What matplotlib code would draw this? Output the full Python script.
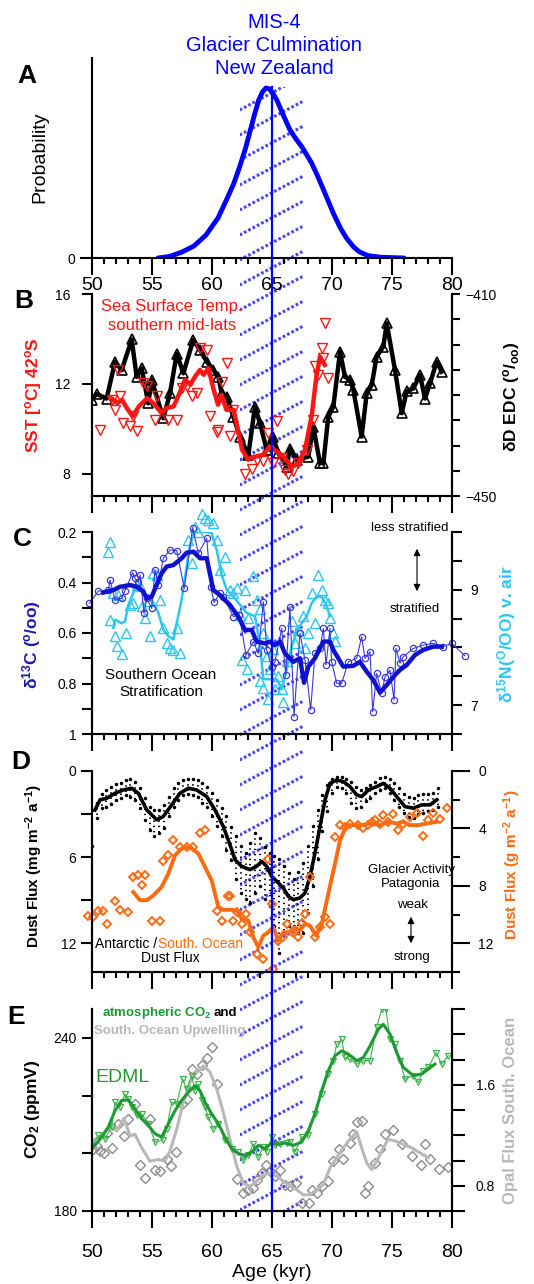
import numpy as np
import matplotlib
matplotlib.use('Agg')
import matplotlib.pyplot as plt
from matplotlib.patches import Rectangle
from matplotlib.ticker import MultipleLocator, FixedLocator

plt.rcParams['font.family'] = ['Liberation Sans', 'DejaVu Sans']
plt.rcParams['mathtext.fontset'] = 'custom'
plt.rcParams['mathtext.rm'] = 'Liberation Sans'
plt.rcParams['mathtext.bf'] = 'Liberation Sans:bold'
plt.rcParams['mathtext.default'] = 'regular'

# ---- A: probability of glacier culmination
prob_age = [55.5, 56.5, 57.5, 58.5, 59.5, 60.5, 61.2, 61.8, 62.3, 62.8, 63.2, 63.6, 63.9, 64.2,
            64.5, 64.8, 65.1, 65.4, 65.9, 66.5, 67.0, 67.5, 68.3, 68.8, 69.3, 70.1, 70.7, 71.2,
            71.8, 72.3, 73.0, 74.0, 76.0]
prob_val = [0.0, 0.008, 0.03, 0.06, 0.115, 0.2, 0.29, 0.37, 0.455, 0.55, 0.64, 0.73, 0.79, 0.83,
            0.85, 0.845, 0.82, 0.79, 0.72, 0.64, 0.595, 0.555, 0.475, 0.41, 0.34, 0.225, 0.15, 0.1,
            0.055, 0.03, 0.012, 0.004, 0.0]

# ---- B: EDC deltaD and SST
dd_age = [49.14, 49.56, 49.97, 50.39, 51.22, 51.92, 52.47, 53.31, 53.72, 54.14, 54.69, 54.97, 55.94,
          56.5, 57.06, 57.61, 58.44, 59.0, 59.56, 60.11, 60.53, 60.81, 61.22, 61.78, 62.33, 63.03,
          63.58, 64.0, 64.56, 65.06, 65.53, 66.22, 66.5, 67.06, 68.03, 68.44, 69.0, 69.28, 69.69,
          70.11, 70.67, 71.08, 71.5, 71.78, 72.47, 72.89, 73.31, 73.72, 74.28, 74.56, 75.25, 75.81,
          76.22, 76.78, 77.33, 77.75, 78.17, 78.72, 79.14]
dd_val = [-435.3, -431.3, -430.9, -429.8, -430.7, -423.4, -425.1, -419.0, -426.4, -424.7, -431.65,
          -427.0, -434.6, -429.7, -421.8, -425.7, -419.1, -421.1, -423.4, -425.05, -426.4, -429.7,
          -430.3, -434.3, -438.25, -441.9, -432.3, -435.6, -440.9, -438.25, -441.55, -444.2, -440.6,
          -442.9, -442.2, -436.3, -443.5, -443.5, -434.3, -432.3, -421.4, -426.4, -427.0, -429.0,
          -438.25, -429.7, -428.0, -422.4, -420.4, -415.8, -425.05, -433.6, -429.3, -428.7, -426.0,
          -430.7, -427.7, -423.4, -425.4]

sst_age = [50.67, 51.64, 51.92, 52.19, 52.33, 52.61, 53.17, 53.44, 53.72, 54.28, 54.56, 55.25, 55.39,
           56.36, 57.06, 57.47, 57.89, 58.31, 58.72, 59.0, 59.56, 59.83, 60.39, 60.53, 60.81, 61.22,
           61.5, 61.78, 62.75, 63.31, 63.72, 64.28, 64.69, 65.11, 65.39, 65.81, 66.08, 66.36, 66.78,
           67.19, 67.89, 68.44, 68.58, 68.86, 69.14, 69.28, 69.69, 69.42]
sst_val = [9.93, 11.29, 10.85, 12.62, 11.47, 10.25, 10.10, 10.55, 9.88, 12.03, 11.88, 10.40, 11.44,
           10.40, 10.40, 11.81, 11.88, 11.44, 11.59, 13.59, 13.51, 10.55, 9.84, 9.96, 12.10, 12.92,
           9.66, 10.85, 7.96, 8.21, 8.62, 8.55, 9.81, 8.47, 10.33, 8.70, 8.18, 8.0, 8.10, 8.47, 9.07,
           10.40, 12.77, 12.40, 13.59, 13.14, 12.25, 14.70]
sst_smooth_age = [51.6, 52.1, 52.5, 52.9, 53.4, 53.9, 54.6, 55.1, 55.8, 56.2, 56.8, 57.3, 57.75, 58.2,
                  58.6, 59.0, 59.3, 59.7, 60.1, 60.5, 60.8, 61.2, 61.8, 62.1, 62.5, 63.0, 63.7, 64.3,
                  64.8, 65.4, 65.9, 66.7, 67.2, 67.75, 68.3, 68.7, 69.0, 69.4]
sst_smooth = [11.36, 11.14, 11.29, 10.92, 10.55, 10.99, 11.36, 11.14, 10.70, 10.92, 10.99, 11.59,
              12.18, 11.96, 12.33, 12.62, 12.4, 12.7, 11.81, 11.07, 11.51, 10.84, 10.84, 10.10, 9.07,
              8.62, 8.77, 8.84, 9.21, 8.99, 8.77, 8.30, 8.47, 9.07, 10.55, 12.33, 13.21, 12.84]

# ---- C: d13C and d15N
c13_age = [49.78, 50.53, 51.36, 51.5, 51.92, 52.47, 52.75, 53.39, 53.58, 53.86, 54.0, 54.33, 54.56,
           54.97, 55.25, 55.53, 55.94, 56.5, 57.06, 57.69, 58.39, 58.86, 59.56, 59.89, 60.17, 60.67,
           60.94, 61.78, 62.28, 62.83, 63.44, 63.86, 64.28, 64.56, 64.97, 65.25, 65.81, 66.14, 66.5,
           66.83, 67.33, 67.75, 68.22, 68.58, 69.0, 69.28, 69.5, 69.83, 69.97, 70.39, 70.81, 71.36,
           72.06, 72.47, 72.75, 73.17, 73.39, 73.72, 74.14, 74.42, 74.83, 75.17, 75.33, 75.67, 75.94,
           76.78, 77.61, 78.44, 79.28, 79.97, 81.08]
c13_val = [0.483, 0.434, 0.430, 0.390, 0.469, 0.463, 0.432, 0.361, 0.384, 0.397, 0.370, 0.522, 0.463,
           0.502, 0.350, 0.410, 0.304, 0.271, 0.274, 0.423, 0.183, 0.285, 0.225, 0.417, 0.479, 0.443,
           0.456, 0.535, 0.529, 0.687, 0.634, 0.681, 0.476, 0.667, 0.733, 0.714, 0.582, 0.766, 0.496,
           0.931, 0.601, 0.707, 0.905, 0.681, 0.661, 0.582, 0.727, 0.582, 0.714, 0.799, 0.799, 0.714,
           0.700, 0.615, 0.700, 0.674, 0.912, 0.760, 0.839, 0.773, 0.747, 0.865, 0.661, 0.720, 0.694,
           0.661, 0.648, 0.641, 0.654, 0.641, 0.690]
c13_smooth_age = [50.94, 51.78, 52.33, 53.17, 53.72, 54.28, 54.56, 54.97, 55.39, 55.8, 56.22, 56.78,
                  57.47, 57.89, 58.44, 59.0, 59.56, 60.11, 60.67, 61.5, 62.19, 62.75, 63.31, 63.72,
                  64.42, 64.83, 65.25, 65.67, 66.08, 66.78, 67.33, 67.67, 68.03, 68.58, 69.28, 69.83,
                  70.11, 70.94, 71.78, 72.33, 72.89, 73.44, 74.0, 74.56, 75.25, 75.67, 76.22, 76.92,
                  77.61, 78.44, 79.14]
c13_smooth = [0.44, 0.43, 0.417, 0.41, 0.417, 0.436, 0.463, 0.456, 0.41, 0.364, 0.337, 0.331, 0.304,
              0.282, 0.278, 0.304, 0.304, 0.43, 0.45, 0.489, 0.535, 0.588, 0.588, 0.634, 0.641, 0.634,
              0.648, 0.634, 0.681, 0.714, 0.70, 0.797, 0.733, 0.70, 0.634, 0.634, 0.667, 0.733, 0.73,
              0.714, 0.753, 0.786, 0.836, 0.806, 0.766, 0.746, 0.727, 0.687, 0.667, 0.654, 0.654]

n15_age = [51.36, 51.5, 51.5, 51.78, 51.92, 52.06, 52.19, 52.47, 52.83, 53.17, 53.44, 53.72, 54.0,
           54.14, 54.42, 54.69, 54.83, 55.11, 55.39, 55.67, 55.94, 56.22, 56.5, 56.78, 57.06, 57.33,
           58.03, 58.31, 58.58, 58.86, 59.14, 59.42, 59.69, 60.06, 60.39, 60.67, 61.08, 61.5, 61.78,
           62.06, 62.33, 62.47, 62.75, 62.89, 63.03, 63.44, 63.72, 64.0, 64.0, 64.28, 64.28, 64.56,
           64.69, 64.83, 65.11, 65.25, 65.53, 65.81, 65.94, 66.22, 66.64, 66.92, 67.19, 67.61, 67.75,
           68.03, 68.31, 68.58, 68.86, 69.14, 69.42, 69.69, 69.83, 70.11, 70.25]
n15_val = [9.66, 9.83, 8.48, 8.94, 8.195, 8.02, 8.91, 7.88, 8.25, 8.74, 8.77, 9.09, 9.06, 8.71, 8.51,
           8.8, 8.195, 9.29, 9.26, 8.83, 8.34, 8.08, 7.99, 7.96, 8.34, 7.91, 9.86, 9.46, 10.09, 10.0,
           10.32, 10.24, 10.21, 10.15, 9.86, 9.34, 9.57, 9.0, 8.94, 9.03, 8.57, 7.79, 9.0, 7.62, 8.51,
           9.23, 8.83, 8.66, 7.42, 8.25, 7.30, 7.85, 7.10, 7.62, 7.97, 7.28, 7.51, 7.28, 7.05, 7.76,
           8.45, 8.08, 8.31, 8.54, 7.99, 8.25, 8.94, 8.42, 9.26, 9.0, 8.83, 8.77, 8.51, 8.25, 8.11]
n15_smooth_age = [51.78, 51.92, 52.19, 52.47, 52.75, 53.03, 53.31, 53.72, 54.14, 54.42, 54.69, 55.11,
                  55.53, 55.94, 56.36, 56.78, 57.06, 57.47, 57.89, 58.17, 58.58, 59.0, 59.56, 59.97,
                  60.39, 60.81, 61.22, 61.78, 62.33, 62.89, 63.58, 64.0, 64.28, 64.83, 65.39, 65.81,
                  66.22, 66.64, 67.06, 67.47, 67.89, 68.31, 68.72, 69.14, 69.56, 69.83]
n15_smooth = [8.34, 8.48, 8.45, 8.42, 8.45, 8.74, 8.88, 9.09, 9.0, 8.88, 8.91, 8.77, 8.6, 8.31, 8.195,
              8.14, 8.42, 8.83, 9.40, 9.78, 10.03, 10.0, 10.0, 9.98, 9.69, 9.26, 9.0, 8.88, 8.74, 8.6,
              8.54, 8.05, 7.45, 7.45, 7.45, 7.28, 7.62, 8.02, 8.28, 8.42, 8.54, 8.77, 8.88, 8.88, 8.71,
              8.54]

# ---- D: dust fluxes
dust_age = [49.2, 49.6, 50.0, 50.4, 50.8, 51.2, 51.6, 52.0, 52.4, 52.8, 53.2, 53.6, 54.0, 54.4, 54.8,
            55.2, 55.6, 56.0, 56.4, 56.8, 57.2, 57.6, 58.0, 58.4, 58.8, 59.2, 59.6, 60.0, 60.4, 60.8,
            61.2, 61.6, 62.0, 62.4, 62.8, 63.2, 63.6, 64.0, 64.4, 64.8, 65.2, 65.6, 66.0, 66.4, 66.8,
            67.2, 67.6, 68.0, 68.4, 68.8, 69.2, 69.6, 70.0, 70.4, 70.8, 71.2, 71.6, 72.0, 72.4, 72.8,
            73.2, 73.6, 74.0, 74.4, 74.8, 75.2, 75.6, 76.0, 76.4, 76.8, 77.2, 77.6, 78.0, 78.4, 78.8]
dust_hi = [2.8, 3.1, 2.7, 2.2, 1.6, 1.3, 1.1, 0.9, 0.85, 0.65, 0.55, 0.75, 1.2, 1.9, 2.5, 2.7, 2.7,
           2.4, 1.8, 1.2, 0.85, 0.65, 0.55, 0.55, 0.65, 0.85, 1.1, 1.5, 2.0, 2.6, 3.1, 3.9, 4.5, 5.2,
           5.7, 5.0, 4.3, 4.7, 5.3, 5.7, 5.9, 6.1, 6.6, 7.1, 7.5, 7.0, 6.4, 5.2, 3.8, 2.7, 1.7, 1.0,
           0.55, 0.4, 0.4, 0.55, 0.75, 1.1, 1.3, 1.2, 0.95, 0.75, 0.5, 0.4, 0.55, 0.85, 1.2, 1.6, 1.8,
           1.9, 1.7, 1.6, 1.6, 1.5, 1.2]
dust_lo = [5.3, 4.9, 5.2, 3.3, 2.6, 2.5, 2.3, 2.0, 1.9, 1.7, 1.8, 2.0, 2.6, 3.4, 4.1, 4.5, 4.3, 4.0,
           3.1, 2.5, 2.0, 1.7, 1.6, 1.7, 1.8, 2.2, 2.5, 3.1, 3.8, 4.5, 5.5, 6.2, 7.5, 8.5, 8.9, 9.2,
           8.5, 8.0, 8.9, 9.4, 10.8, 12.7, 11.3, 10.8, 10.8, 11.3, 11.3, 9.9, 8.0, 6.1, 4.2, 2.8, 1.5,
           1.1, 1.2, 1.5, 2.2, 2.6, 2.5, 2.1, 1.9, 1.5, 1.3, 1.2, 1.5, 2.0, 2.5, 2.9, 3.2, 3.3, 3.0,
           2.9, 2.8, 2.7, 2.5]
dust_smooth_age = [50.25, 50.67, 51.22, 51.92, 52.61, 53.3, 53.86, 54.56, 55.39, 55.94, 56.64, 57.33,
                   58.03, 58.72, 59.56, 60.25, 60.94, 61.5, 61.92, 62.47, 63.17, 63.72, 64.14, 64.56,
                   64.97, 65.53, 65.94, 66.36, 66.78, 67.33, 67.75, 68.17, 68.58, 69.0, 69.42, 69.83,
                   70.39, 70.94, 71.5, 72.06, 72.47, 73.03, 73.72, 74.28, 74.83, 75.39, 76.08, 76.78,
                   77.47, 78.17, 78.72]
dust_smooth = [2.71, 2.01, 1.90, 1.55, 1.32, 1.20, 1.55, 2.71, 3.40, 3.17, 2.36, 1.55, 1.20, 1.32,
               1.78, 2.71, 3.86, 5.14, 6.18, 6.64, 6.87, 6.64, 6.30, 6.64, 7.34, 7.80, 8.15, 8.73, 8.96,
               8.84, 8.50, 7.34, 5.72, 3.86, 2.01, 0.86, 0.62, 0.74, 1.09, 1.67, 1.78, 1.32, 1.09, 0.86,
               1.20, 1.78, 2.48, 2.59, 2.36, 2.36, 2.01]

so_age = [49.69, 50.11, 50.53, 50.89, 51.22, 51.92, 52.33, 53.03, 53.44, 53.8, 54.14, 54.42, 54.97,
          55.67, 55.94, 56.36, 56.78, 57.33, 57.89, 58.44, 59.0, 59.42, 60.39, 60.81, 61.31, 61.5,
          61.78, 62.11, 62.47, 62.83, 63.17, 63.72, 64.28, 64.69, 64.97, 65.11, 65.53, 65.94, 66.22,
          66.64, 67.19, 67.47, 67.75, 68.17, 68.58, 69.0, 69.42, 69.83, 70.25, 70.67, 71.08, 71.5,
          72.19, 72.61, 73.03, 73.31, 73.58, 74.0, 74.28, 74.69, 75.11, 75.53, 75.94, 76.5, 77.06,
          77.61, 78.03, 78.44, 79.0, 79.56]
so_val = [10.07, 10.14, 9.72, 9.72, 10.69, 9.06, 9.67, 9.81, 7.39, 7.27, 7.97, 7.27, 10.46, 10.46,
          6.27, 5.87, 4.82, 5.29, 5.29, 5.29, 4.35, 4.08, 9.72, 10.42, 8.74, 8.74, 10.42, 9.83, 10.65,
          9.95, 11.23, 12.75, 13.1, 6.1, 9.25, 13.8, 11.81, 11.58, 10.65, 11.23, 11.58, 10.6, 9.95,
          7.39, 11.58, 10.88, 10.18, 10.65, 4.59, 3.77, 3.89, 3.66, 3.77, 4.0, 3.77, 3.54, 3.42, 3.66,
          3.07, 3.54, 3.0, 4.12, 3.66, 3.19, 2.96, 4.54, 3.42, 2.96, 3.31, 2.61]
so_smooth_age = [53.44, 54.0, 54.56, 55.11, 55.8, 56.36, 56.92, 57.47, 58.17, 58.86, 59.42, 59.97,
                 60.53, 60.94, 61.64, 62.06, 62.47, 63.03, 63.44, 63.86, 64.28, 64.69, 65.11, 65.53,
                 65.94, 66.5, 66.92, 67.33, 67.75, 68.17, 68.67, 69.14, 69.69, 70.25, 70.67, 71.22,
                 71.78, 72.47, 73.17, 74.0, 74.69, 75.39, 75.94, 76.5, 77.19, 77.89, 78.72]
so_smooth = [8.43, 9.0, 9.0, 8.67, 8.08, 7.15, 5.87, 5.40, 5.29, 5.75, 6.69, 7.62, 9.48, 9.67, 9.67,
             9.72, 10.3, 10.42, 11.58, 12.28, 11.46, 11.23, 10.88, 11.81, 11.23, 11.23, 10.88, 11.11,
             10.65, 10.77, 11.46, 10.65, 8.55, 6.45, 4.82, 3.77, 3.77, 3.77, 3.66, 3.77, 3.54, 3.66,
             3.54, 3.77, 3.77, 3.66, 3.54]

# ---- E: CO2 and opal flux
co2_age = [49.69, 49.97, 50.53, 51.08, 51.64, 51.92, 52.33, 52.75, 53.03, 53.3, 53.72, 54.14, 54.69,
           55.25, 55.89, 56.22, 56.64, 57.06, 57.55, 57.89, 58.31, 58.58, 58.86, 59.14, 59.42, 59.69,
           60.11, 60.53, 61.08, 61.64, 62.19, 62.61, 63.03, 63.44, 63.86, 64.28, 64.56, 64.97, 65.25,
           65.67, 66.22, 66.5, 66.92, 67.47, 68.03, 68.58, 69.14, 69.69, 70.11, 70.39, 70.81, 71.08,
           71.5, 72.06, 72.61, 73.17, 73.72, 74.14, 74.5, 74.83, 75.25, 75.67, 76.08, 76.78, 77.19,
           77.61, 78.03, 78.67, 79.14, 79.69]
co2_val = [201.0, 202.2, 206.2, 205.1, 209.1, 217.7, 216.0, 220.6, 218.9, 216.0, 213.1, 213.7, 210.2,
           203.9, 204.5, 208.5, 217.7, 217.1, 225.7, 222.3, 226.9, 221.7, 224.0, 218.3, 216.0, 212.5,
           208.5, 210.2, 204.5, 201.6, 200.5, 197.6, 199.3, 203.3, 198.7, 202.2, 200.5, 205.6, 202.75,
           203.3, 203.56, 203.9, 200.5, 205.6, 206.2, 213.7, 220.6, 227.5, 232.1, 237.8, 239.5, 233.2,
           232.6, 230.9, 232.1, 232.1, 243.6, 249.9, 249.9, 239.5, 237.8, 232.1, 225.7, 226.9, 224.6,
           228.6, 229.8, 234.9, 230.9, 233.8]
co2_smooth_age = [49.69, 50.25, 50.81, 51.36, 51.92, 52.47, 53.03, 53.58, 54.14, 54.69, 55.25, 55.8,
                  56.36, 56.92, 57.47, 58.03, 58.58, 59.0, 59.42, 59.97, 60.53, 61.08, 61.64, 62.19,
                  62.75, 63.31, 63.86, 64.42, 64.97, 65.53, 66.08, 66.78, 67.47, 68.03, 68.58, 69.14,
                  69.69, 70.25, 70.81, 71.36, 72.06, 72.61, 73.17, 73.86, 74.28, 74.83, 75.39, 75.94,
                  76.78, 77.47, 78.03, 78.58]
co2_smooth = [200.46, 202.75, 205.63, 209.08, 214.8, 218.3, 218.5, 215.4, 211.95, 209.66, 206.78,
              205.63, 210.2, 214.8, 218.3, 221.15, 223.45, 221.7, 217.7, 213.7, 210.2, 205.63, 201.6,
              199.9, 199.3, 200.46, 202.75, 201.6, 203.56, 203.1, 203.56, 202.75, 203.9, 207.9, 213.7,
              221.7, 228.6, 233.8, 235.5, 234.4, 232.06, 233.2, 237.2, 243.0, 244.7, 241.3, 234.9,
              229.8, 226.9, 227.5, 229.2, 230.9]

opal_age = [49.78, 50.11, 50.39, 50.67, 51.0, 51.28, 51.64, 52.19, 52.67, 53.03, 53.58, 54.0, 54.42,
            54.83, 55.25, 55.67, 56.22, 56.56, 56.97, 57.47, 57.89, 58.31, 58.72, 59.14, 59.56, 59.97,
            60.44, 62.11, 62.61, 63.03, 63.39, 63.72, 64.14, 64.47, 64.83, 65.25, 65.67, 66.08, 66.5,
            67.0, 67.47, 68.11, 68.31, 68.72, 69.14, 69.69, 70.11, 70.61, 70.94, 71.5, 71.78, 72.06,
            72.47, 72.75, 73.03, 73.58, 74.0, 74.42, 75.06, 75.81, 76.64, 77.39, 77.75, 78.17, 78.94,
            79.69]
opal_val = [1.128, 1.088, 1.115, 1.075, 1.061, 1.221, 1.101, 1.288, 1.195, 1.328, 1.448, 0.968, 0.861,
            1.328, 0.928, 0.915, 1.008, 0.955, 1.067, 1.448, 1.488, 1.723, 1.688, 1.76, 1.808, 1.901,
            1.608, 0.856, 0.741, 0.768, 0.781, 0.848, 0.901, 0.968, 0.915, 0.875, 0.928, 0.808, 0.795,
            0.821, 0.661, 0.667, 0.768, 0.741, 0.795, 0.835, 0.995, 1.088, 1.013, 1.141, 1.208, 1.301,
            1.315, 0.741, 0.795, 0.981, 1.088, 1.208, 1.243, 1.128, 1.035, 0.968, 1.128, 1.013, 0.933,
            0.949]
opal_smooth_age = [49.69, 50.25, 50.81, 51.5, 52.06, 52.67, 53.17, 53.58, 54.14, 54.83, 55.53, 56.08,
                   56.5, 57.06, 57.61, 58.17, 58.72, 59.28, 59.83, 60.39, 60.94, 61.5, 62.06, 62.61,
                   63.17, 63.72, 64.28, 64.83, 65.39, 65.94, 66.5, 67.06, 67.61, 68.17, 68.72, 69.28,
                   69.83, 70.39, 70.94, 71.5, 72.06, 72.47, 72.89, 73.31, 73.72, 74.28, 74.69, 75.25,
                   75.94, 76.64, 77.33, 78.03]
opal_smooth = [1.115, 1.168, 1.195, 1.275, 1.235, 1.333, 1.195, 1.208, 1.101, 0.995, 1.008, 0.995,
               1.075, 1.248, 1.461, 1.621, 1.701, 1.749, 1.701, 1.568, 1.381, 1.168, 0.955, 0.821,
               0.795, 0.835, 0.888, 0.901, 0.875, 0.835, 0.8, 0.768, 0.728, 0.728, 0.768, 0.808, 0.941,
               1.021, 1.101, 1.168, 1.227, 1.101, 0.981, 0.928, 0.995, 1.101, 1.168, 1.155, 1.128,
               1.101, 1.061, 1.021]

RED = '#ff1414'
NAVY = '#1010d0'
CYAN = '#2cc6f0'
ORANGE = '#ff6a10'
GREEN = '#1e9a32'
GREY = '#b8b8b8'
BLUE = '#0000ff'

W, H = 534, 1284
fig = plt.figure(figsize=(W / 100, H / 100), dpi=100)


def box(l, t, r, b):
    return [l / W, 1 - b / H, (r - l) / W, (b - t) / H]


# hatched band of the MIS-4 culmination, behind everything
ov = fig.add_axes(box(92, 0, 452, H), zorder=0)
ov.set_xlim(50, 80)
ov.set_ylim(H, 0)
ov.axis('off')
band = Rectangle((62.3, 87), 5.4, 1211 - 87, facecolor='none', edgecolor='none')
ov.add_patch(band)
for y0 in range(85, 1211 + 60, 25):
    ln, = ov.plot([62.3, 67.7], [y0, y0 - 34.5], color='#4a4af2', lw=2.2,
                  linestyle=(0, (0.9, 0.7)))
    ln.set_clip_path(band)


def style(ax, labels=False):
    ax.set_facecolor('none')
    ax.set_xlim(50, 80)
    ax.spines['top'].set_visible(False)
    for s in ax.spines.values():
        s.set_linewidth(1.5)
    ax.xaxis.set_major_locator(MultipleLocator(5))
    ax.xaxis.set_minor_locator(MultipleLocator(1))
    ax.tick_params(axis='x', which='major', direction='out', length=12, width=1.5)
    ax.tick_params(axis='x', which='minor', direction='out', length=4.5, width=1.5)
    ax.tick_params(axis='y', which='both', direction='out', length=7.5, width=1.5, labelsize=10)
    if not labels:
        ax.tick_params(axis='x', labelbottom=False)


# ---- A
axA = fig.add_axes(box(92, 58, 452, 258), zorder=1)
style(axA, labels=True)
axA.spines['right'].set_visible(False)
axA.set_ylim(0, 1)
axA.set_yticks([0])
axA.tick_params(axis='x', labelsize=14, pad=2)
axA.tick_params(axis='y', length=8.5)
axA.plot(prob_age, prob_val, color=BLUE, lw=3.5, solid_capstyle='round')

# ---- B
axB = fig.add_axes(box(92, 294, 452, 496), zorder=1)
style(axB)
axB.set_ylim(7, 16)
axB.set_yticks([8, 12, 16])
axB.tick_params(axis='y', pad=8)
axB2 = axB.twinx()
axB2.set_ylim(-450, -410)
axB2.yaxis.set_major_locator(FixedLocator([-450, -410]))
axB2.yaxis.set_minor_locator(MultipleLocator(5))
axB2.tick_params(axis='y', which='both', direction='out', length=6, width=1.5, labelsize=10)
axB2.spines['top'].set_visible(False)
for s in axB2.spines.values():
    s.set_linewidth(1.5)
axB2.plot(dd_age, dd_val, color='k', lw=3.2, marker='^', ms=7.5, mfc='none', mec='k', mew=1.2)
axB.set_zorder(axB2.get_zorder() + 1)
axB.plot(sst_age, sst_val, linestyle='none', marker='v', ms=6.5, mfc='none', mec=RED, mew=1.0)
axB.plot(sst_smooth_age, sst_smooth, color=RED, lw=3.2)

# ---- C
axC = fig.add_axes(box(92, 532, 452, 734), zorder=1)
style(axC)
axC.set_ylim(1.0, 0.2)
axC.yaxis.set_major_locator(FixedLocator([0.2, 0.4, 0.6, 0.8, 1.0]))
axC.yaxis.set_minor_locator(MultipleLocator(0.1))
axC.set_yticklabels(['0.2', '0.4', '0.6', '0.8', '1'])
axC2 = axC.twinx()
axC2.set_ylim(6.5, 10)
axC2.yaxis.set_major_locator(FixedLocator([7, 9]))
axC2.yaxis.set_minor_locator(MultipleLocator(0.5))
axC2.tick_params(axis='y', which='both', direction='out', length=7, width=1.5, labelsize=10, pad=6)
axC2.spines['top'].set_visible(False)
for s in axC2.spines.values():
    s.set_linewidth(1.5)
axC2.plot(n15_age, n15_val, linestyle='none', marker='^', ms=6.5, mfc='none', mec=CYAN, mew=1.0,
          clip_on=False)
axC2.plot(n15_smooth_age, n15_smooth, color=CYAN, lw=1.8)
axC.set_zorder(axC2.get_zorder() + 1)
axC.plot(c13_age, c13_val, color='#3a3ad8', lw=0.8, marker='o', ms=4.5, mfc='none', mec='#3a3ad8',
         mew=0.9, clip_on=False)
axC.plot(c13_smooth_age, c13_smooth, color=NAVY, lw=3.2)

# ---- D
axD = fig.add_axes(box(92, 771, 452, 972), zorder=1)
style(axD)
axD.set_ylim(14, 0)
axD.yaxis.set_major_locator(FixedLocator([0, 6, 12]))
axD.yaxis.set_minor_locator(MultipleLocator(3))
axD.tick_params(axis='y', which='both', length=8)
axD2 = axD.twinx()
axD2.set_ylim(14, 0)
axD2.yaxis.set_major_locator(FixedLocator([0, 4, 8, 12]))
axD2.yaxis.set_minor_locator(MultipleLocator(2))
axD2.tick_params(axis='y', which='major', direction='out', length=13, width=1.5, labelsize=10, pad=6)
axD2.tick_params(axis='y', which='minor', direction='out', length=6, width=1.5)
axD2.spines['top'].set_visible(False)
for s in axD2.spines.values():
    s.set_linewidth(1.5)
axD.vlines(dust_age, dust_hi, dust_lo, colors='k', linestyles=(0, (0.7, 2.0)), lw=1.4)
axD.plot(dust_age, dust_hi, linestyle='none', marker='.', ms=3, color='k')
axD.plot(dust_age, dust_lo, linestyle='none', marker='.', ms=3, color='k')
axD.plot(dust_smooth_age, dust_smooth, color='k', lw=2.6)
axD2.plot(so_age, so_val, linestyle='none', marker='D', ms=3.6, mfc='none', mec=ORANGE, mew=1.4,
          clip_on=False)
axD2.plot(so_smooth_age, so_smooth, color=ORANGE, lw=2.8)

# ---- E
axE = fig.add_axes(box(92, 1009, 452, 1211), zorder=1)
style(axE, labels=True)
axE.set_ylim(180, 250)
axE.yaxis.set_major_locator(FixedLocator([180, 240]))
axE.yaxis.set_minor_locator(FixedLocator([200, 220]))
axE.tick_params(axis='x', labelsize=14, pad=12)
axE.set_xlabel('Age (kyr)', fontsize=14, labelpad=2)
axE2 = axE.twinx()
axE2.set_ylim(0.6, 2.2)
axE2.yaxis.set_major_locator(FixedLocator([0.8, 1.6]))
axE2.yaxis.set_minor_locator(MultipleLocator(0.2))
axE2.tick_params(axis='y', which='both', direction='out', length=9, width=1.5, labelsize=10, pad=8)
axE2.spines['top'].set_visible(False)
for s in axE2.spines.values():
    s.set_linewidth(1.5)
axE2.plot(opal_age, opal_val, linestyle='none', marker='D', ms=5, mfc='none', mec='#8c8c8c', mew=1.0)
axE2.plot(opal_smooth_age, opal_smooth, color=GREY, lw=2.2)
axE.set_zorder(axE2.get_zorder() + 1)
axE.plot(co2_age, co2_val, color='#3cb44a', lw=0.8, marker='v', ms=5, mfc='none', mec='#3cb44a',
         mew=0.9)
axE.plot(co2_smooth_age, co2_smooth, color=GREEN, lw=2.2)

# vertical line at 65 kyr on top
top = fig.add_axes(box(92, 0, 452, H), zorder=10)
top.set_xlim(50, 80)
top.set_ylim(H, 0)
top.axis('off')
top.plot([65, 65], [87, 1211], color=BLUE, lw=1.6)

# ---- free text in pixel coordinates
tx = fig.add_axes([0, 0, 1, 1], zorder=20)
tx.set_xlim(0, W)
tx.set_ylim(H, 0)
tx.axis('off')


def T(x, y, s, size=10, color='k', weight='normal', rot=0, ha='center'):
    tx.text(x, y, s, fontsize=size, color=color, fontweight=weight, rotation=rot,
            ha=ha, va='center', rotation_mode='anchor')


T(274, 23, 'MIS-4', 14.5, BLUE)
T(274, 45.5, 'Glacier Culmination', 14.5, BLUE)
T(274, 69, 'New Zealand', 14.5, BLUE)

for lab, x, y in [('A', 27, 76), ('B', 24, 301), ('C', 22, 539), ('D', 21, 762), ('E', 16, 1017)]:
    T(x, y, lab, 19, 'k', 'bold')

T(40, 157, 'Probability', 14, rot=90)
T(33, 395, 'SST [$^{o}$C] 42$^{o}$S', 12.5, RED, 'bold', 90)
T(511, 397, 'δD EDC ($^{o}$/$_{oo}$)', 12.5, 'k', 'bold', 90)
T(32, 645, 'δ$^{13}$C ($^{o}$/oo)', 12.5, '#1a1ab4', 'bold', 90)
T(507, 634, 'δ$^{15}$N($^{O}$/OO) v. air', 12.5, CYAN, 'bold', 90)
T(34, 866, 'Dust Flux (mg m$^{-2}$ a$^{-1}$)', 11, 'k', 'bold', 90)
T(512, 865, 'Dust Flux (g m$^{-2}$ a$^{-1}$)', 11, ORANGE, 'bold', 90)
T(33, 1109, 'CO$_2$ (ppmV)', 12.5, 'k', 'bold', 90)
T(510, 1110, 'Opal Flux South. Ocean', 12, GREY, 'bold', 90)

T(172, 307, 'Sea Surface Temp.', 12, RED)
T(172, 326, 'southern mid-lats', 12, RED)

T(410, 528, 'less stratified', 9.5)
T(415, 609, 'stratified', 9.5)
tx.annotate('', xy=(417, 546), xytext=(417, 594),
            arrowprops=dict(arrowstyle='<|-|>', color='k', lw=0.8, mutation_scale=10))
T(161, 675, 'Southern Ocean', 11)
T(161, 692, 'Stratification', 11)

T(411, 870, 'Glacier Activity', 9.5)
T(411, 884, 'Patagonia', 9.5)
T(412, 905, 'weak', 9.5)
T(412, 957, 'strong', 9.5)
tx.annotate('', xy=(411, 914), xytext=(411, 946),
            arrowprops=dict(arrowstyle='<|-|>', color='k', lw=0.8, mutation_scale=10))
T(95, 944, 'Antarctic / ', 10, 'k', ha='left')
T(243, 944, 'South. Ocean', 10, ORANGE, ha='right')
T(170, 958, 'Dust Flux', 10)

T(102, 1013, 'atmospheric CO$_2$', 9.5, GREEN, 'bold', ha='left')
T(237, 1013, 'and', 9.5, 'k', 'bold', ha='right')
T(94, 1031, 'South. Ocean Upwelling', 9.5, GREY, 'bold', ha='left')
T(95, 1078, 'EDML', 14, GREEN, ha='left')

fig.savefig('out.png', dpi=100)
